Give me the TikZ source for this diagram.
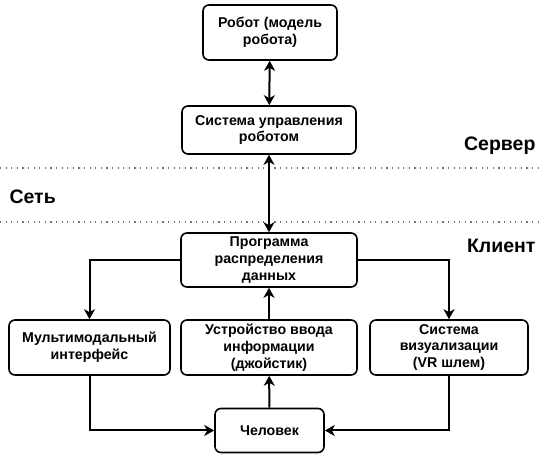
\documentclass[tikz,border=0pt]{standalone}
\usepackage{fontspec}
\setmainfont{Liberation Sans}
\usetikzlibrary{arrows.meta}
\begin{document}
\begin{tikzpicture}[x=1pt,y=-1pt,
  box/.style={draw, line width=1.6pt, rounded corners=6pt, align=center, inner sep=2pt,
    font=\bfseries\fontsize{14.2}{16.8}\selectfont},
  conn/.style={line width=2pt, -{Stealth[length=10pt,width=11pt,inset=3pt]}},
  bconn/.style={line width=2pt, {Stealth[length=10pt,width=11pt,inset=3pt]}-{Stealth[length=10pt,width=11pt,inset=3pt]}},
  sep/.style={draw=black!55, line width=1.2pt, dash pattern=on 1.2pt off 4.4pt},
  zone/.style={font=\bfseries\fontsize{19.5}{22}\selectfont}
]
\useasboundingbox (0,0) rectangle (542,454);

\node[box, minimum width=134pt, minimum height=55pt] (robot) at (270,32.5) {Робот (модель\\робота)};
\node[box, minimum width=174pt, minimum height=48pt] (sys) at (269,130) {Система управления\\роботом};
\node[box, minimum width=176pt, minimum height=54pt] (prog) at (269,260) {Программа\\распределения\\данных};
\node[box, minimum width=161pt, minimum height=55pt] (multi) at (89.5,347.5) {Мультимодальный\\интерфейс};
\node[box, minimum width=176pt, minimum height=55pt] (dev) at (269,347.5) {Устройство ввода\\информации\\(джойстик)};
\node[box, minimum width=158pt, minimum height=55pt] (vis) at (449,347.5) {Система\\визуализации\\(VR шлем)};
\node[box, minimum width=109pt, minimum height=44pt] (hum) at (269.5,430.5) {Человек};

\coordinate (s1a) at (0,168);
\coordinate (s1b) at (542,168);
\coordinate (s2a) at (0,222);
\coordinate (s2b) at (542,222);
\draw[sep] (s1a) -- (s1b);
\draw[sep] (s2a) -- (s2b);

\node[zone, anchor=east] (server) at (539,146) {Сервер};
\node[zone, anchor=west] (net) at (6,197) {Сеть};
\node[zone, anchor=east] (client) at (539,246) {Клиент};

\draw[bconn] (robot) -- (sys);
\draw[bconn] (sys) -- (prog);
\draw[conn] (prog.west) -| (multi.north);
\draw[conn] (prog.east) -| (vis.north);
\draw[conn] (dev) -- (prog);
\draw[conn] (hum) -- (dev);
\draw[conn] (multi.south) |- (hum.west);
\draw[conn] (vis.south) |- (hum.east);
\end{tikzpicture}
\end{document}
